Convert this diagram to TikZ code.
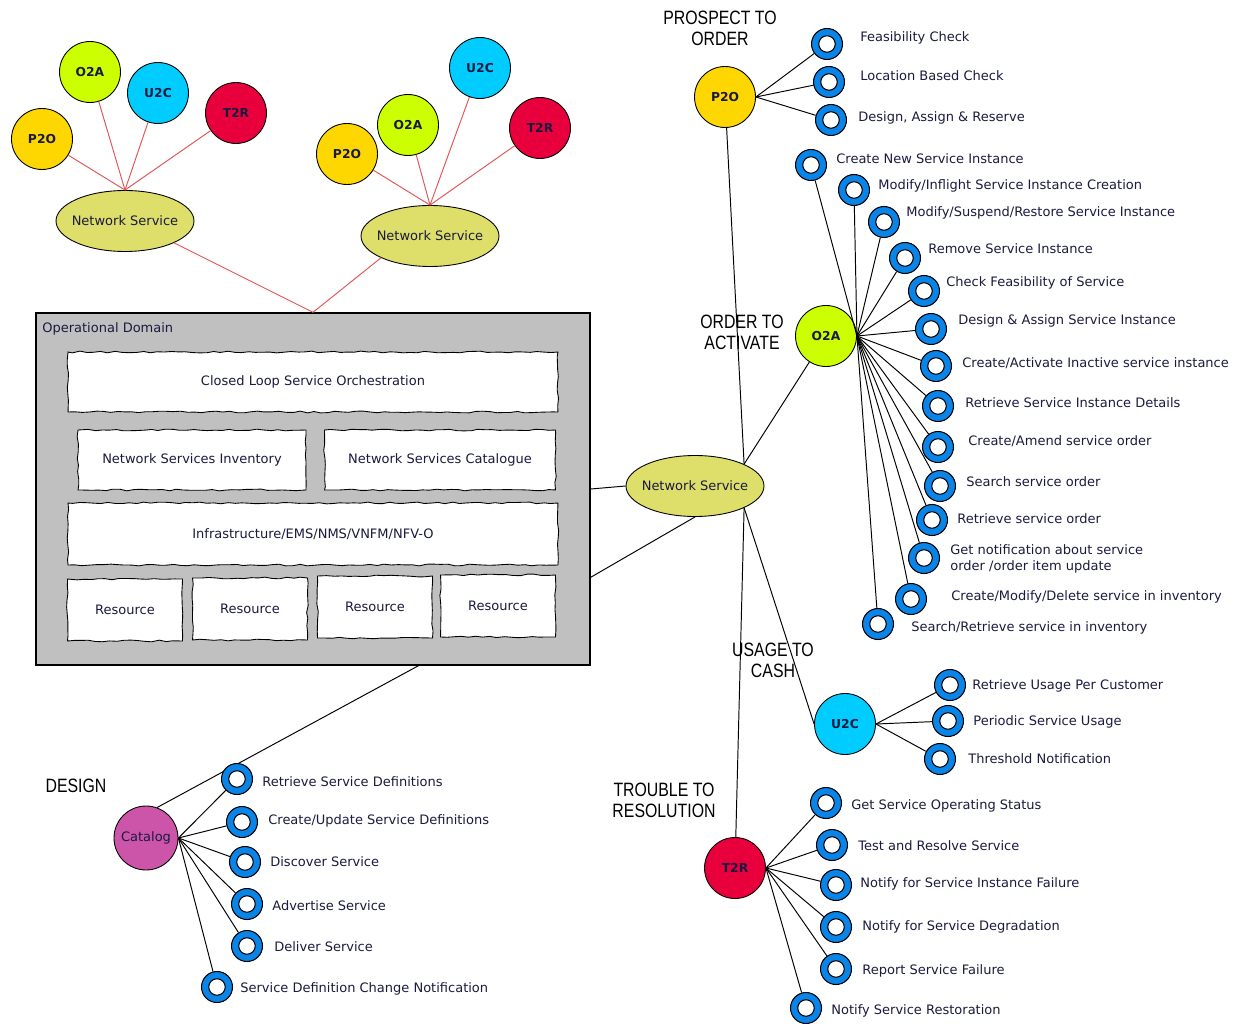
\documentclass[tikz,border=0pt]{standalone}
\usepackage{fontspec}
\setmainfont{DejaVu Sans}
\newfontfamily\headfont[FakeStretch=0.82]{Liberation Sans}
\usetikzlibrary{positioning, calc, shapes.geometric, decorations.pathmorphing}
\definecolor{PYellow}{HTML}{FFD700}
\definecolor{OLime}{HTML}{CCFF00}
\definecolor{UCyan}{HTML}{00CCFF}
\definecolor{TRed}{HTML}{E8003D}
\definecolor{CMagenta}{HTML}{CC55AA}
\definecolor{NSKhaki}{HTML}{DEDE6A}
\definecolor{DomGray}{HTML}{C0C0C0}
\definecolor{RingBlue}{HTML}{0A84E6}
\definecolor{LinkRed}{HTML}{E35555}
\definecolor{TxtNavy}{HTML}{1A1A40}

\tikzset{
  hub/.style={circle, draw=black, line width=0.5pt, minimum size=1.22cm, inner sep=0pt,
    font=\fontsize{7}{8}\selectfont\bfseries, text=TxtNavy},
  nsvc/.style={ellipse, draw=black, line width=0.5pt, fill=NSKhaki, minimum width=2.76cm,
    minimum height=1.22cm, inner xsep=-4pt, inner ysep=0pt, font=\fontsize{7.4}{8.5}\selectfont, text=TxtNavy},
  ring/.style={circle, draw=black, line width=0.6pt, fill=RingBlue, minimum size=0.62cm, inner sep=0pt,
    path picture={\draw[black, line width=0.6pt, fill=white] (path picture bounding box.center) circle (0.165cm);}},
  ringlbl/.style={anchor=west, inner sep=0pt, font=\fontsize{7.4}{8.8}\selectfont, text=TxtNavy, align=left},
  phase/.style={font=\headfont\fontsize{11}{12}\selectfont, align=center, inner sep=0pt},
  link/.style={black, line width=0.55pt},
  redlink/.style={LinkRed, line width=0.55pt},
  layer/.style={draw=black, line width=0.5pt, fill=white, decorate,
    decoration={random steps, segment length=4pt, amplitude=0.5pt},
    font=\fontsize{7.4}{8.5}\selectfont, text=TxtNavy, inner sep=0pt},
}

\begin{document}
\begin{tikzpicture}[x=0.02cm, y=-0.02cm]
    \pgfmathsetseed{7}
    \useasboundingbox (0,0) rectangle (1239,1023);

    % --- Top clusters ---
    \node[nsvc] (nsL) at (125,221) {Network Service};
    \node[hub, fill=OLime] (o2aL) at (90,72) {O2A};
    \node[hub, fill=UCyan] (u2cL) at (158,93) {U2C};
    \node[hub, fill=TRed] (t2rL) at (236,113) {T2R};
    \node[hub, fill=PYellow] (p2oL) at (42,139) {P2O};
    \foreach \h in {p2oL,o2aL,u2cL,t2rL}
        \draw[redlink] (nsL.north) -- (\h);

    \node[nsvc] (nsR) at (430,236) {Network Service};
    \node[hub, fill=PYellow] (p2oR) at (347,154) {P2O};
    \node[hub, fill=OLime] (o2aR) at (408,125) {O2A};
    \node[hub, fill=UCyan] (u2cR) at (480,68) {U2C};
    \node[hub, fill=TRed] (t2rR) at (540,128) {T2R};
    \foreach \h in {p2oR,o2aR,u2cR,t2rR}
        \draw[redlink] (nsR.north) -- (\h);

    % --- Operational domain ---
    \node[draw=black, line width=0.8pt, fill=DomGray, minimum width=11.08cm, minimum height=7.04cm,
          inner sep=0pt] (opdomain) at (313,489) {};
    \node[anchor=west, inner sep=0pt, font=\fontsize{7.4}{8.5}\selectfont, text=TxtNavy] (opLabel)
          at (42,329) {Operational Domain};
    \draw[redlink] (opdomain.north) -- (nsL.south east);
    \draw[redlink] (opdomain.north) -- (nsR.south west);

    \node[layer, minimum width=9.8cm, minimum height=1.2cm] (closedLoop) at (313,382)
          {Closed Loop Service Orchestration};
    \node[layer, minimum width=4.56cm, minimum height=1.2cm] (nsInv) at (192,460)
          {Network Services Inventory};
    \node[layer, minimum width=4.62cm, minimum height=1.2cm] (nsCat) at (440,460)
          {Network Services Catalogue};
    \node[layer, minimum width=9.8cm, minimum height=1.24cm] (infra) at (313,534)
          {Infrastructure/EMS/NMS/VNFM/NFV-O};
    \foreach \i/\cx/\cy in {1/125/610, 2/250/609, 3/375/607, 4/498/606}
        \node[layer, minimum width=2.3cm, minimum height=1.24cm] (res-\i) at (\cx,\cy) {Resource};

    % --- Central network service and lifecycle hubs ---
    \node[nsvc] (nsMain) at (695,486) {Network Service};
    \node[hub, fill=PYellow] (p2o) at (725,97) {P2O};
    \node[hub, fill=OLime] (o2a) at (826,336) {O2A};
    \node[hub, fill=UCyan] (u2c) at (845,724) {U2C};
    \node[hub, fill=TRed] (t2r) at (735,868) {T2R};
    \node[hub, fill=CMagenta, minimum size=1.28cm, font=\fontsize{7.4}{8.5}\selectfont] (catalog)
          at (146,838) {Catalog};

    \draw[link] (opdomain.east) -- (nsMain.west);
    \draw[link] ($(opdomain.south east)!0.25!(opdomain.north east)$) -- (nsMain.south);
    \draw[link] ($(opdomain.south west)!0.69!(opdomain.south east)$) -- (catalog.70);
    \draw[link] (nsMain.north east) -- (p2o);
    \draw[link] (nsMain.north east) -- (o2a);
    \draw[link] (nsMain.south east) -- (t2r);
    \draw[link] (nsMain.south east) -- (u2c.west);

    % Phase titles
    \node[phase] (lblP2O) at (720,28) {PROSPECT TO\\ORDER};
    \node[phase] (lblO2A) at (742,332) {ORDER TO\\ACTIVATE};
    \node[phase] (lblU2C) at (773,660) {USAGE TO\\CASH};
    \node[phase] (lblT2R) at (664,800) {TROUBLE TO\\RESOLUTION};
    \node[phase] (lblDesign) at (76,786) {DESIGN};

    % --- Operations per hub ---
    \foreach \n/\cx/\cy/\lx/\ly/\txt in {
        1/827/44/860/38/{Feasibility Check},
        2/829/82/860/76/{Location Based Check},
        3/831/120/858/118/{Design, Assign \& Reserve}} {
        \node[ring] (p2o-\n) at (\cx,\cy) {};
        \node[ringlbl] (p2o-\n-lbl) at (\lx,\ly) {\txt};
        \draw[link] (p2o.east) -- (p2o-\n);
    }

    \foreach \n/\cx/\cy/\lx/\ly/\txt in {
        1/811/165/836/159/{Create New Service Instance},
        2/854/190/878/186/{Modify/Inflight Service Instance Creation},
        3/884/222/906/213/{Modify/Suspend/Restore Service Instance},
        4/905/258/928/249/{Remove Service Instance},
        5/924/291/946/283/{Check Feasibility of Service},
        6/931/329/958/321/{Design \& Assign Service Instance},
        7/936/366/962/363/{Create/Activate Inactive service instance},
        8/938/406/965/403/{Retrieve Service Instance Details},
        9/938/447/968/441/{Create/Amend service order},
        10/940/486/966/482/{Search service order},
        11/932/520/957/519/{Retrieve service order},
        12/924/558/950/559/{Get notification about service\\order /order item update},
        13/911/599/951/597/{Create/Modify/Delete service in inventory},
        14/878/624/911/628/{Search/Retrieve service in inventory}} {
        \node[ring] (o2a-\n) at (\cx,\cy) {};
        \node[ringlbl] (o2a-\n-lbl) at (\lx,\ly) {\txt};
        \draw[link] (o2a.east) -- (o2a-\n);
    }

    \foreach \n/\cx/\cy/\lx/\ly/\txt in {
        1/950/685/972/686/{Retrieve Usage Per Customer},
        2/948/721/973/722/{Periodic Service Usage},
        3/940/759/968/759/{Threshold Notification}} {
        \node[ring] (u2c-\n) at (\cx,\cy) {};
        \node[ringlbl] (u2c-\n-lbl) at (\lx,\ly) {\txt};
        \draw[link] (u2c.east) -- (u2c-\n);
    }

    \foreach \n/\cx/\cy/\lx/\ly/\txt in {
        1/826/803/851/806/{Get Service Operating Status},
        2/832/845/858/846/{Test and Resolve Service},
        3/836/885/860/884/{Notify for Service Instance Failure},
        4/836/927/862/927/{Notify for Service Degradation},
        5/836/969/862/971/{Report Service Failure},
        6/806/1008/831/1011/{Notify Service Restoration}} {
        \node[ring] (t2r-\n) at (\cx,\cy) {};
        \node[ringlbl] (t2r-\n-lbl) at (\lx,\ly) {\txt};
        \draw[link] (t2r.east) -- (t2r-\n);
    }

    \foreach \n/\cx/\cy/\lx/\ly/\txt in {
        1/237/779/262/782/{Retrieve Service Definitions},
        2/242/822/268/821/{Create/Update Service Definitions},
        3/245/862/270/862/{Discover Service},
        4/247/904/272/906/{Advertise Service},
        5/247/946/274/947/{Deliver Service},
        6/217/987/240/989/{Service Definition Change Notification}} {
        \node[ring] (cat-\n) at (\cx,\cy) {};
        \node[ringlbl] (cat-\n-lbl) at (\lx,\ly) {\txt};
        \draw[link] (catalog.east) -- (cat-\n);
    }

\end{tikzpicture}
\end{document}
